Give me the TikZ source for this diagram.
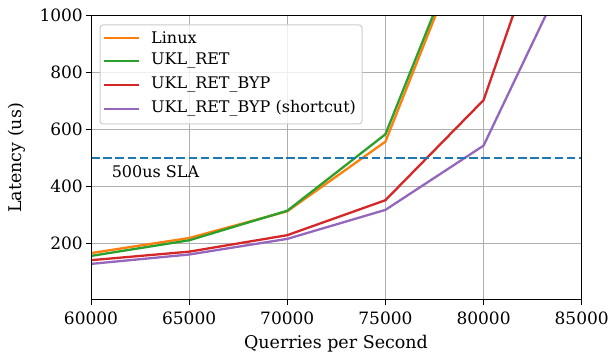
\documentclass[tikz,border=0pt]{standalone}
\usepackage{fontspec}
\setmainfont{DejaVu Serif}
\definecolor{cLinux}{HTML}{FF7F0E}
\definecolor{cRet}{HTML}{2CA02C}
\definecolor{cByp}{HTML}{D62728}
\definecolor{cShort}{HTML}{9467BD}
\definecolor{cSla}{HTML}{1F77B4}
\definecolor{cGrid}{HTML}{B0B0B0}
\definecolor{cLeg}{HTML}{CCCCCC}
\tikzset{
  gridline/.style={draw=cGrid, line width=1pt},
  series/.style={line width=2.3pt, line join=round},
  tick/.style={draw=black, line width=1pt},
  ticklab/.style={font=\fontsize{17}{19}\selectfont, inner sep=0pt},
  leglab/.style={font=\fontsize{16}{18}\selectfont, anchor=west, inner sep=0pt},
  axlab/.style={font=\fontsize{17.5}{19}\selectfont, inner sep=0pt},
}
\begin{document}
\begin{tikzpicture}[x=1pt,y=1pt]
\useasboundingbox (0,0) rectangle (610,356);
\begin{scope}[shift={(91,56)}, x=19.628pt, y=0.2843pt]
  % grid
  \foreach \q in {5,10,15,20} \draw[gridline] (\q,0) -- (\q,1000);
  \foreach \v in {200,400,600,800} \draw[gridline] (0,\v) -- (25,\v);
  % series
  \begin{scope}
    \clip (0,0) rectangle (25,1000);
    \draw[series, cLinux] (0,165) -- (5,218) -- (10,312) -- (15,557) -- (20,1426);
    \draw[series, cRet] (0,155) -- (5,210) -- (10,314) -- (15,583) -- (20,1444);
    \draw[series, cByp] (0,140) -- (5,170) -- (10,228) -- (15,351) -- (20,703) -- (25,1696);
    \draw[series, cShort] (0,127) -- (5,160) -- (10,215) -- (15,317) -- (20,543) -- (25,1266);
    \draw[cSla, line width=2.3pt, dash pattern=on 8.5pt off 3.7pt] (0,500) -- (25,500);
  \end{scope}
  \node[font=\fontsize{16}{18}\selectfont, anchor=base west, inner sep=0pt] (sla) at (1.05,432) {500us SLA};
  % axes frame
  \draw[tick] (0,0) rectangle (25,1000);
  % x ticks
  \foreach \q/\lab in {0/60000,5/65000,10/70000,15/75000,20/80000,25/85000} {
    \draw[tick] (\q,0) -- ++(0,-5pt);
    \node[ticklab, anchor=north] (xl\q) at ([yshift=-12pt]\q,0) {\lab};
  }
  % y ticks
  \foreach \v in {200,400,600,800,1000} {
    \draw[tick] (0,\v) -- ++(-5pt,0);
    \node[ticklab, anchor=east] (yl\v) at ([xshift=-8pt]0,\v) {\v};
  }
\end{scope}
% axis labels
\node[axlab, rotate=90] (ylab) at (17,198) {Latency (us)};
\node[axlab] (xlab) at (336,12) {Querries per Second};
% legend
\draw[draw=cLeg, fill=white, fill opacity=0.8, line width=1pt, rounded corners=3pt] (100,331) rectangle (362,232);
\foreach \y/\c/\t [count=\i] in {318.3/cLinux/Linux, 295/cRet/UKL\_RET, 271.3/cByp/UKL\_RET\_BYP, 247.3/cShort/UKL\_RET\_BYP (shortcut)} {
  \draw[series, \c] (104,\y) -- (139,\y);
  \node[leglab] (leg\i) at (151,\y) {\t};
}
\end{tikzpicture}
\end{document}
